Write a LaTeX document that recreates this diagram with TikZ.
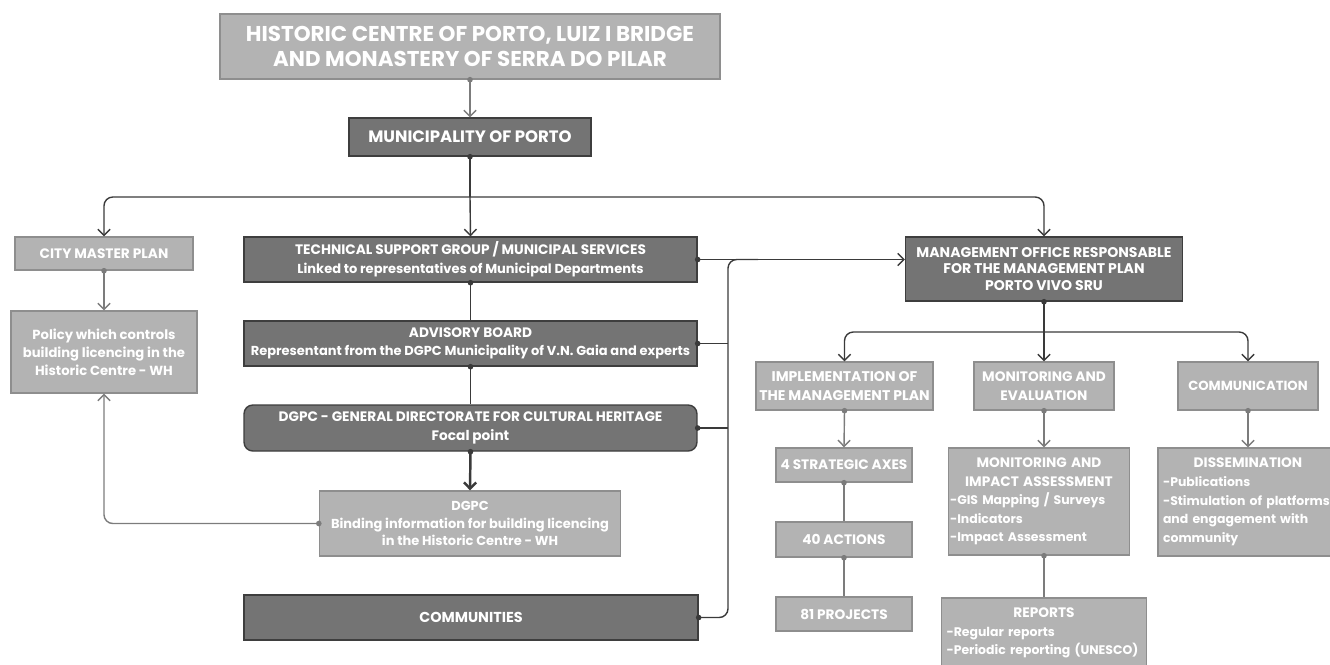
\documentclass[tikz,border=0pt]{standalone}
\usepackage{fontspec}
\setmainfont{Poppins}
\usetikzlibrary{arrows.meta}

\definecolor{lightfill}{HTML}{B3B3B3}
\definecolor{lightline}{HTML}{8E8E8E}
\definecolor{darkfill}{HTML}{747474}
\definecolor{darkline}{HTML}{3E3E3E}
\definecolor{gline}{HTML}{7C7C7C}
\definecolor{dline}{HTML}{3A3A3A}

\newcommand{\listhead}[1]{{\centering\fontsize{7.8}{10.6}\selectfont #1\par}}

\begin{document}
\begin{tikzpicture}[x=0.02cm, y=-0.02cm,
    box/.style={draw, line width=0.8pt, text=white, align=center, inner sep=1pt,
      font=\bfseries\fontsize{7.8}{10.6}\selectfont},
    lbox/.style={box, fill=lightfill, draw=lightline},
    dbox/.style={box, fill=darkfill, draw=darkline},
    listbox/.style={lbox, align=left, font=\bfseries\fontsize{7.1}{10.6}\selectfont},
    gconn/.style={draw=gline, line width=0.8pt},
    dconn/.style={draw=dline, line width=0.8pt},
    arr/.style={-{Straight Barb[length=3.5pt,width=7pt]}}]
    \useasboundingbox (0,0) rectangle (1330,664);

    % head of the chart
    \node[lbox, minimum width=10cm, minimum height=1.3cm, font=\bfseries\fontsize{12.2}{14.7}\selectfont] (site) at (470,46.5) {HISTORIC CENTRE OF PORTO, LUIZ I BRIDGE\\AND MONASTERY OF SERRA DO PILAR};
    \node[dbox, minimum width=4.84cm, minimum height=0.76cm, font=\bfseries\fontsize{9.4}{11}\selectfont] (muni) at (470,137) {MUNICIPALITY OF PORTO};

    % left column
    \node[lbox, minimum width=3.56cm, minimum height=0.66cm] (cmp) at (104,253.5) {CITY MASTER PLAN};
    \node[lbox, minimum width=3.72cm, minimum height=1.64cm, font=\bfseries\fontsize{7.5}{10.2}\selectfont] (policy) at (104,352) {Policy which controls\\building licencing in the\\Historic Centre - WH};

    % middle column
    \node[dbox, minimum width=9.06cm, minimum height=0.9cm] (tech) at (470.5,259.5) {TECHNICAL SUPPORT GROUP / MUNICIPAL SERVICES\\{\fontsize{7.4}{10.6}\selectfont Linked to representatives of Municipal Departments}};
    \node[dbox, minimum width=9.06cm, minimum height=0.9cm] (adv) at (470.5,343.5) {ADVISORY BOARD\\{\fontsize{7.4}{10.6}\selectfont Representant from the DGPC Municipality of V.N. Gaia and experts}};
    \node[dbox, rounded corners=5pt, minimum width=9.06cm, minimum height=0.92cm] (dgpc) at (470.5,428) {DGPC - GENERAL DIRECTORATE FOR CULTURAL HERITAGE\\Focal point};
    \node[lbox, minimum width=6.02cm, minimum height=1.3cm, font=\bfseries\fontsize{7.4}{10.2}\selectfont] (bind) at (470,523.5) {DGPC\\Binding information for building licencing\\in the Historic Centre - WH};
    \node[dbox, minimum width=9.08cm, minimum height=0.9cm, font=\bfseries\fontsize{8.2}{10.6}\selectfont] (comm) at (471,617.5) {COMMUNITIES};

    % right part
    \node[dbox, minimum width=5.54cm, minimum height=1.28cm, font=\bfseries\fontsize{8}{9.6}\selectfont] (mgmt) at (1044,269) {MANAGEMENT OFFICE RESPONSABLE\\FOR THE MANAGEMENT PLAN\\PORTO VIVO SRU};
    \node[lbox, minimum width=3.54cm, minimum height=0.96cm, font=\bfseries\fontsize{8}{10.6}\selectfont] (impl) at (844.5,386) {IMPLEMENTATION OF\\THE MANAGEMENT PLAN};
    \node[lbox, minimum width=2.8cm, minimum height=0.96cm] (moneval) at (1044,386) {MONITORING AND\\EVALUATION};
    \node[lbox, minimum width=2.8cm, minimum height=0.96cm, font=\bfseries\fontsize{7.5}{10.6}\selectfont] (commun) at (1248,386) {COMMUNICATION};
    \node[lbox, minimum width=2.72cm, minimum height=0.68cm] (axes) at (844,465) {4 STRATEGIC AXES};
    \node[lbox, minimum width=2.72cm, minimum height=0.7cm] (actions) at (844,539.5) {40 ACTIONS};
    \node[lbox, minimum width=2.72cm, minimum height=0.68cm] (projects) at (844,614) {81 PROJECTS};
    \node[listbox, text width=3.56cm, minimum height=2.14cm] (impact) at (1039,501.5) {\listhead{MONITORING AND\\IMPACT ASSESSMENT}-GIS Mapping / Surveys\\-Indicators\\-Impact Assessment};
    \node[listbox, text width=3.9cm, inner xsep=2.8pt, minimum height=1.4cm] (reports) at (1044,633) {\listhead{REPORTS}-Regular reports\\-Periodic reporting (UNESCO)};
    \node[listbox, text width=3.4cm, inner xsep=2.8pt, minimum height=2.16cm] (dissem) at (1248,502) {\listhead{DISSEMINATION}-Publications\\-Stimulation of platforms\\and engagement with\\community};

    % connectors
    \coordinate (split) at (470,197);
    \coordinate (split2) at (1044,332);
    \coordinate (bus) at (728,259.5);
    \draw[gconn, arr] (site.south) -- (muni.north);
    \draw[dconn] (muni.south) -- (split);
    \draw[dconn, arr, rounded corners=5pt] (split) -| (cmp.north);
    \draw[dconn, arr] (split) -- (tech.north);
    \draw[dconn, arr, rounded corners=5pt] (split) -| (mgmt.north);
    \draw[gconn, arr] (cmp.south) -- (policy.north);
    \draw[gconn, arr, rounded corners=5pt] (bind.west) -| (policy.south);
    \draw[dconn] (tech.south) -- (adv.north);
    \draw[dconn] (adv.south) -- (dgpc.north);
    \draw[dconn, line width=1.4pt, arr] (dgpc.south) -- (bind.north);
    \draw[dconn, arr] (tech.east) -- (tech.east -| mgmt.west);
    \draw[dconn] (adv.east) -- (adv.east -| bus);
    \draw[dconn] (dgpc.east) -- (dgpc.east -| bus);
    \draw[dconn, rounded corners=5pt] (comm.east) -| (bus) -- ++(30,0);
    \draw[dconn, arr] (mgmt.south) -- (moneval.north);
    \draw[dconn, arr, rounded corners=5pt] (split2) -| (impl.north);
    \draw[dconn, arr, rounded corners=5pt] (split2) -| (commun.north);
    \draw[gconn, arr] (impl.south) -- (axes.north);
    \draw[gconn] (axes.south) -- (actions.north);
    \draw[gconn] (actions.south) -- (projects.north);
    \draw[gconn, arr] (moneval.south) -- (moneval.south |- impact.north);
    \draw[gconn] (reports.north |- impact.south) -- (reports.north);
    \draw[gconn, arr] (commun.south) -- (dissem.north);

    % dots where the connectors leave
    \foreach \p in {site.south, cmp.south, bind.west, impl.south, moneval.south, commun.south, axes.south, actions.south} {
        \fill[gline] (\p) circle (1.6pt);
    }
    \foreach \p in {muni.south, tech.south, tech.east, adv.south, adv.east, dgpc.south, dgpc.east, comm.east, mgmt.south} {
        \fill[dline] (\p) circle (1.6pt);
    }
    \fill[gline] (reports.north |- impact.south) circle (1.6pt);
\end{tikzpicture}
\end{document}
